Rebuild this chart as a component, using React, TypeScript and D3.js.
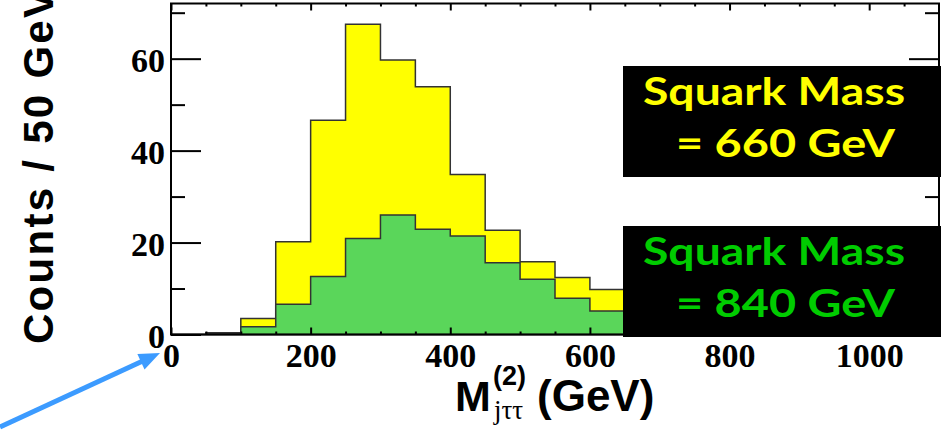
import React, { useRef, useEffect } from "react";
import * as d3 from "d3";

// bin lower edges (50 GeV bins)
const binEdges = [0, 50, 100, 150, 200, 250, 300, 350, 400, 450, 500, 550, 600, 650, 700, 750, 800, 850, 900, 950, 1000, 1050];
// squark mass = 660 GeV (yellow)
const counts660 = [0, 0.4, 3.5, 20.2, 46.6, 67.5, 59.7, 53.9, 34.8, 22.7, 15.8, 12.4, 9.8, 7, 5, 3.5, 2.5, 1.5, 1, 0.5, 0.3, 0];
// squark mass = 840 GeV (green)
const counts840 = [0, 0.2, 1.7, 6.6, 12.6, 20.9, 26.0, 22.9, 21.4, 15.6, 12.0, 7.9, 5.1, 4, 3, 2.2, 1.5, 1, 0.7, 0.4, 0.2, 0];

const xMajor = [0, 200, 400, 600, 800, 1000];
const xMinor = [50, 100, 150, 250, 300, 350, 450, 500, 550, 650, 700, 750, 850, 900, 950, 1050];
const yMajor = [0, 20, 40, 60];
const yMinor = [10, 30, 50, 70];

const legendLines = [
  { l1: "Squark Mass", l2: "= 660 GeV", color: "#ffff00" },
  { l1: "Squark Mass", l2: "= 840 GeV", color: "#00cc00" },
];

const W = 941;
const H = 432;

const App: React.FC = () => {
  const ref = useRef<SVGSVGElement | null>(null);

  useEffect(() => {
    if (!ref.current) return;
    const svg = d3.select(ref.current);
    svg.selectAll("*").remove();

    const left = 171, right = 939, top = 3.5, bottom = 334.5;
    const x = d3.scaleLinear().domain([0, 1100]).range([left, right]);
    const y = d3.scaleLinear().domain([0, 72]).range([bottom, top]);

    const serif = "'Liberation Serif', 'Times New Roman', serif";
    const sans = "'Liberation Sans', Arial, Helvetica, sans-serif";
    const comic = "'Comic Sans MS', Lato, 'Open Sans', sans-serif";

    // histograms
    const toPts = (vals: number[]) => {
      const pts = binEdges.map((e, i) => ({ x: e, v: vals[i] }));
      pts.push({ x: 1100, v: vals[vals.length - 1] });
      return pts;
    };
    const area = d3
      .area<{ x: number; v: number }>()
      .x((d) => x(d.x))
      .y0(y(0))
      .y1((d) => y(d.v))
      .curve(d3.curveStepAfter);

    svg.append("path")
      .attr("d", area(toPts(counts660)))
      .attr("fill", "#ffff00")
      .attr("stroke", "#333")
      .attr("stroke-width", 1.5);
    svg.append("path")
      .attr("d", area(toPts(counts840)))
      .attr("fill", "#5ad65a")
      .attr("stroke", "#333")
      .attr("stroke-width", 1.5);

    // axes (ROOT style, ticks inside)
    const styleAxis = (g: d3.Selection<SVGGElement, unknown, null, undefined>) => {
      g.select(".domain").remove();
      g.selectAll("line").attr("stroke", "#000").attr("stroke-width", 2);
    };

    const xb = svg.append("g").attr("transform", `translate(0,${bottom})`)
      .call(d3.axisBottom(x).tickValues(xMajor).tickSize(-7).tickPadding(8).tickFormat(d3.format("d")));
    styleAxis(xb);
    xb.selectAll("text").attr("font-family", serif).attr("font-weight", "bold").attr("font-size", 34).attr("fill", "#000");
    const xbm = svg.append("g").attr("transform", `translate(0,${bottom})`)
      .call(d3.axisBottom(x).tickValues(xMinor).tickSize(-3).tickFormat(() => ""));
    styleAxis(xbm);

    const xt = svg.append("g").attr("transform", `translate(0,${top})`)
      .call(d3.axisTop(x).tickValues(xMajor).tickSize(-7).tickFormat(() => ""));
    styleAxis(xt);
    const xtm = svg.append("g").attr("transform", `translate(0,${top})`)
      .call(d3.axisTop(x).tickValues(xMinor).tickSize(-3).tickFormat(() => ""));
    styleAxis(xtm);

    const yl = svg.append("g").attr("transform", `translate(${left},0)`)
      .call(d3.axisLeft(y).tickValues(yMajor).tickSize(-30).tickPadding(6).tickFormat(d3.format("d")));
    styleAxis(yl);
    yl.selectAll("text").attr("font-family", serif).attr("font-weight", "bold").attr("font-size", 34)
      .attr("fill", "#000").attr("dy", "0.38em");
    const ylm = svg.append("g").attr("transform", `translate(${left},0)`)
      .call(d3.axisLeft(y).tickValues(yMinor).tickSize(-14).tickFormat(() => ""));
    styleAxis(ylm);

    const yr = svg.append("g").attr("transform", `translate(${right},0)`)
      .call(d3.axisRight(y).tickValues(yMajor).tickSize(-30).tickFormat(() => ""));
    styleAxis(yr);
    const yrm = svg.append("g").attr("transform", `translate(${right},0)`)
      .call(d3.axisRight(y).tickValues(yMinor).tickSize(-14).tickFormat(() => ""));
    styleAxis(yrm);

    // frame
    svg.append("rect")
      .attr("x", left).attr("y", top)
      .attr("width", right - left).attr("height", bottom - top)
      .attr("fill", "none").attr("stroke", "#000").attr("stroke-width", 2);

    // y title (cut at the top edge, as in the original figure)
    svg.append("text")
      .attr("transform", `translate(53,344) rotate(-90)`)
      .attr("font-family", sans).attr("font-weight", "bold").attr("font-size", 42)
      .attr("textLength", 354).attr("lengthAdjust", "spacing")
      .text("Counts / 50 GeV");

    // x title: M^(2)_{jττ} (GeV)
    const xt1 = svg.append("g");
    xt1.append("text").attr("x", 455).attr("y", 411)
      .attr("font-family", sans).attr("font-weight", "bold").attr("font-size", 43).text("M");
    xt1.append("text").attr("x", 493).attr("y", 385)
      .attr("font-family", sans).attr("font-weight", "bold").attr("font-size", 27).text("(2)");
    xt1.append("text").attr("x", 494).attr("y", 419)
      .attr("font-family", serif).attr("font-size", 27).text("jττ");
    xt1.append("text").attr("x", 537).attr("y", 411)
      .attr("font-family", sans).attr("font-weight", "bold").attr("font-size", 44)
      .text("(GeV)");

    // legend boxes
    const boxes = [
      { y0: 66, y1: 177, b1: 105, b2: 157 },
      { y0: 226, y1: 337, b1: 265, b2: 317 },
    ];
    legendLines.forEach((l, i) => {
      const b = boxes[i];
      svg.append("rect").attr("x", 623).attr("y", b.y0)
        .attr("width", W - 623).attr("height", b.y1 - b.y0).attr("fill", "#000");
      svg.append("text").attr("x", 643).attr("y", b.b1)
        .attr("font-family", comic).attr("font-weight", "bold").attr("font-size", 38)
        .attr("fill", l.color).attr("textLength", 262).attr("lengthAdjust", "spacingAndGlyphs")
        .text(l.l1);
      svg.append("text").attr("x", 676).attr("y", b.b2)
        .attr("font-family", comic).attr("font-weight", "bold").attr("font-size", 38)
        .attr("fill", l.color).attr("textLength", 219).attr("lengthAdjust", "spacingAndGlyphs")
        .text(l.l2);
    });

    // blue arrow pointing at the origin
    const tail: [number, number] = [0, 427];
    const tip: [number, number] = [160, 353];
    const dx = tip[0] - tail[0], dy = tip[1] - tail[1];
    const len = Math.hypot(dx, dy);
    const ux = dx / len, uy = dy / len;
    const headL = 21, headW = 8.5;
    const bx = tip[0] - headL * ux, by = tip[1] - headL * uy;
    svg.append("line")
      .attr("x1", tail[0]).attr("y1", tail[1]).attr("x2", bx + 2 * ux).attr("y2", by + 2 * uy)
      .attr("stroke", "#3c9bff").attr("stroke-width", 5);
    svg.append("polygon")
      .attr("points", [
        tip,
        [bx - headW * uy, by + headW * ux],
        [bx + headW * uy, by - headW * ux],
      ].map((p) => p.join(",")).join(" "))
      .attr("fill", "#3c9bff");
  }, []);

  return (
    <div style={{ position: "absolute", left: 0, top: 0, width: W, height: H, background: "#fff" }}>
      <svg ref={ref} width={W} height={H} style={{ display: "block" }} />
    </div>
  );
};

export default App;
